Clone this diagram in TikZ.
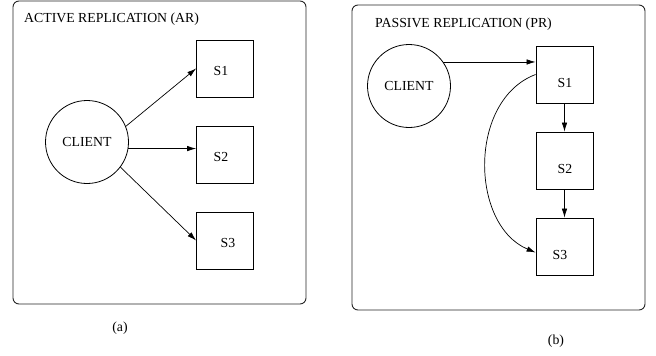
\documentclass[tikz,border=0pt]{standalone}
\usepackage{fontspec}
\setmainfont{Liberation Serif}
\usetikzlibrary{arrows.meta}
\begin{document}
\begin{tikzpicture}[x=1pt,y=-1pt,
  every node/.style={font=\fontsize{13.8}{16}\selectfont, inner sep=0pt},
  panel/.style={draw=black!85, line width=0.9pt, rounded corners=6pt},
  server/.style={draw, line width=0.8pt, minimum size=57pt},
  client/.style={draw, circle, line width=0.8pt, minimum size=83pt},
  conn/.style={line width=0.7pt, -{Latex[length=9pt,width=5.5pt]}}]
\useasboundingbox (0,0) rectangle (656,356);
% panel (a)
\node[panel, minimum width=293pt, minimum height=303pt] (pa) at (159.5,152.5) {};
\node[anchor=west] (ta) at (24,19) {ACTIVE REPLICATION (AR)};
\node[client] (ca) at (87,142) {CLIENT};
\node[server, label={[shift={(-4,2)}]center:S1}] (s1a) at (225,68.5) {};
\node[server, label={[shift={(-4,2)}]center:S2}] (s2a) at (225,154.5) {};
\node[server, label={[shift={(3,2)}]center:S3}] (s3a) at (225,240.5) {};
\draw[conn] (ca.22) -- (s1a.west);
\draw[conn] (ca.-9) -- (ca.-9 -| s2a.west);
\draw[conn] (ca.-37) -- (s3a.west);
\node (la) at (120,328) {(a)};
% panel (b)
\node[panel, minimum width=293pt, minimum height=305pt] (pb) at (498.5,157.5) {};
\node[anchor=west] (tb) at (375,24) {PASSIVE REPLICATION (PR)};
\node[client] (cb) at (409,86) {CLIENT};
\node[server, label={[shift={(0.5,8)}]center:S1}] (s1b) at (564.5,74.5) {};
\node[server, label={[shift={(0.5,8)}]center:S2}] (s2b) at (564.5,160.5) {};
\node[server, label={[shift={(-4.5,8)}]center:S3}] (s3b) at (564.5,246.5) {};
\draw[conn] (cb.35) -- (cb.35 -| s1b.west);
\draw[conn] (s1b) -- (s2b);
\draw[conn] (s2b) -- (s3b);
\draw[conn] (s1b.west) .. controls (468,100) and (470,225) .. ([yshift=-6pt]s3b.west);
\node (lb) at (556,341) {(b)};
\end{tikzpicture}
\end{document}
